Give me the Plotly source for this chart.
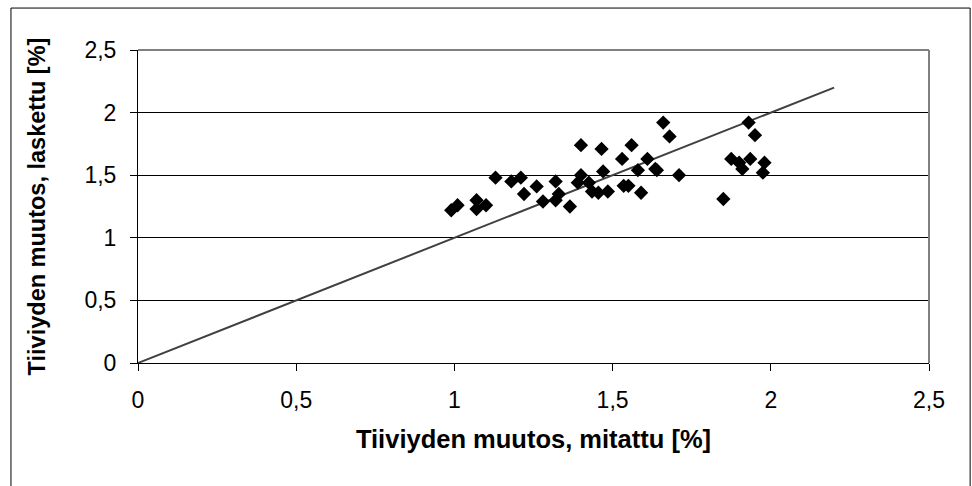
import plotly.graph_objects as go

# Mitattu (x) ja laskettu (y) tiiviyden muutos [%]
measured = [
    0.99, 1.01, 1.07, 1.07, 1.10, 1.13, 1.18, 1.21, 1.22, 1.26,
    1.28, 1.32, 1.32, 1.33, 1.365, 1.40, 1.40, 1.39, 1.425, 1.435,
    1.455, 1.465, 1.47, 1.485, 1.53, 1.535, 1.55, 1.56, 1.58, 1.59,
    1.61, 1.635, 1.64, 1.66, 1.68, 1.71, 1.85, 1.875, 1.90, 1.91,
    1.93, 1.935, 1.95, 1.98, 1.975,
]
calculated = [
    1.22, 1.26, 1.30, 1.23, 1.26, 1.48, 1.45, 1.48, 1.35, 1.41,
    1.29, 1.45, 1.30, 1.35, 1.25, 1.74, 1.50, 1.44, 1.44, 1.37,
    1.36, 1.71, 1.53, 1.37, 1.63, 1.415, 1.415, 1.74, 1.54, 1.36,
    1.63, 1.55, 1.54, 1.92, 1.81, 1.50, 1.31, 1.63, 1.60, 1.55,
    1.92, 1.63, 1.82, 1.60, 1.52,
]
# 1:1 line
line_x = [0, 2.2]
line_y = [0, 2.2]

tick_vals = [0, 0.5, 1, 1.5, 2, 2.5]
tick_text = ["0", "0,5", "1", "1,5", "2", "2,5"]

FONT = "Liberation Sans, Arial, sans-serif"

fig = go.Figure()

fig.add_trace(go.Scatter(
    x=line_x, y=line_y, mode="lines",
    line=dict(color="#404040", width=2),
    showlegend=False, hoverinfo="skip",
))

fig.add_trace(go.Scatter(
    x=measured, y=calculated, mode="markers",
    marker=dict(symbol="diamond", size=11, color="black"),
    showlegend=False,
))

axis_common = dict(
    range=[0, 2.5],
    tickvals=tick_vals,
    ticktext=tick_text,
    ticks="outside",
    ticklen=7,
    tickcolor="black",
    showline=True,
    linecolor="black",
    linewidth=1,
    zeroline=False,
    ticklabelstandoff=9,
    tickfont=dict(family=FONT, size=23, color="black"),
)

fig.update_xaxes(
    **axis_common,
    showgrid=False,
    title=dict(text="<b>Tiiviyden muutos, mitattu [%]</b>",
               font=dict(family=FONT, size=25.5, color="black"), standoff=18),
)
fig.update_yaxes(
    **axis_common,
    showgrid=True,
    gridcolor="black",
    gridwidth=1,
    title=dict(text="<b>Tiiviyden muutos, laskettu [%]</b>",
               font=dict(family=FONT, size=23.5, color="black"), standoff=32),
)

# plot area border (top and right, gray)
fig.add_shape(type="line", xref="paper", yref="paper", x0=0, x1=1, y0=1, y1=1,
              line=dict(color="#808080", width=2))
fig.add_shape(type="line", xref="paper", yref="paper", x0=1, x1=1, y0=0, y1=1,
              line=dict(color="#808080", width=2))
# outer chart border
fig.add_shape(type="rect", xref="paper", yref="paper",
              x0=-0.1606, x1=1.052, y0=-0.6, y1=1.134,
              line=dict(color="black", width=1))

fig.update_layout(
    width=972, height=486,
    margin=dict(l=138, r=43, t=50, b=123),
    paper_bgcolor="white",
    plot_bgcolor="white",
    font=dict(family=FONT, color="black"),
)

fig.write_html("out.html", config={"displayModeBar": False},
               post_script="document.body.style.margin='0';")
